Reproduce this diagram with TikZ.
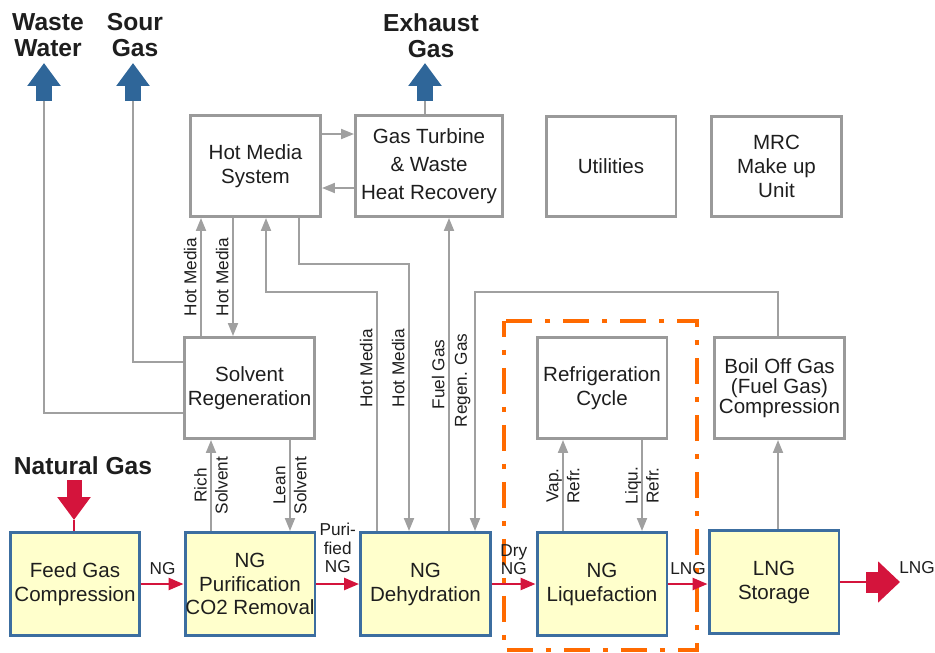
\documentclass[tikz,border=0pt]{standalone}
\usepackage{fontspec}
\setmainfont{Liberation Sans}
\usetikzlibrary{arrows.meta}
\definecolor{boxgray}{HTML}{9A9A9A}
\definecolor{linegray}{HTML}{A0A0A0}
\definecolor{unitblue}{HTML}{3C6EA0}
\definecolor{unityellow}{HTML}{FFFFCC}
\definecolor{ngred}{HTML}{D4143C}
\definecolor{outblue}{HTML}{2F6699}
\definecolor{liqorange}{HTML}{FF6A00}
\definecolor{textdark}{HTML}{1E1E1E}
\newcommand{\boxfont}{\fontsize{11.7}{13.6}\selectfont}
\newcommand{\lblfont}{\fontsize{9.8}{10.6}\selectfont}
\newcommand{\headfont}{\bfseries\fontsize{14}{14.7}\selectfont}

\tikzset{
    box/.style={draw=boxgray, line width=1.7pt, minimum width=2.6cm, minimum height=2.02cm,
        inner sep=0pt, align=center, font=\boxfont, text=textdark},
    unit/.style={box, draw=unitblue, fill=unityellow, minimum height=2.06cm},
    head/.style={font=\headfont, align=center, inner sep=0pt, text=textdark},
    lbl/.style={font=\lblfont, align=center, inner sep=1.5pt, text=textdark},
    side/.style={lbl, rotate=90, anchor=south, inner sep=2pt},
    vlbl/.style={lbl, rotate=90, font=\fontsize{9.8}{12}\selectfont},
    gline/.style={draw=linegray, line width=1.1pt},
    garrow/.style={gline, -{Triangle[length=0.26cm, width=0.2cm]}},
    rline/.style={draw=ngred, line width=1.4pt},
    rarrow/.style={rline, -{Triangle[length=0.3cm, width=0.24cm]}},
    outblock/.style={draw=outblue, line width=0.32cm, -{Triangle[length=0.46cm, width=0.64cm]}},
    inblock/.style={draw=ngred, line width=0.3cm, -{Triangle[length=0.46cm, width=0.64cm]}},
    lngblock/.style={draw=ngred, line width=0.42cm, -{Triangle[length=0.44cm, width=0.8cm]}},
    refframe/.style={draw=liqorange, line width=2.8pt,
        dash pattern=on 0.52cm off 0.26cm on 0.1cm off 0.26cm, dash phase=0.2cm}
}

\begin{document}
\begin{tikzpicture}[x=0.02cm, y=-0.02cm]
    \useasboundingbox (0,0) rectangle (935,652);

    % liquefaction frame behind everything
    \draw[refframe] (504,321) rectangle (697,650);

    % top row
    \node[box] (hms) at (255.5,166) {Hot Media\\System};
    \node[box, minimum width=2.94cm] (gt) at (429,166) {Gas Turbine\\[2.5pt]\& Waste\\[2.5pt]Heat Recovery};
    \node[box] (util) at (611,166.5) {Utilities};
    \node[box] (mrc) at (776.5,166.5) {MRC\\Make up\\Unit};

    % middle row
    \node[box] (solv) at (249.5,388) {Solvent\\Regeneration};
    \node[box] (refr) at (602,388) {Refrigeration\\Cycle};
    \node[box, font=\fontsize{11.7}{11.5}\selectfont] (bog) at (779.5,388) {Boil Off Gas\\(Fuel Gas)\\Compression};

    % main process line
    \node[unit] (feed) at (75,584) {Feed Gas\\Compression};
    \node[unit] (purif) at (250,584) {NG\\Purification\\CO2 Removal};
    \node[unit] (dehy) at (425.5,584) {NG\\Dehydration};
    \node[unit] (liq) at (602,584) {NG\\Liquefaction};
    \node[unit] (stor) at (774,582) {LNG\\Storage};

    % feeds and products
    \node[head] (wwlab) at (48,35) {Waste\\Water};
    \node[head] (sglab) at (135,35) {Sour\\Gas};
    \node[head] (exlab) at (431,36) {Exhaust\\Gas};
    \node[head] (nglab) at (83,466) {Natural Gas};
    \node[lbl] (lngend) at (917,568) {LNG};

    \coordinate (ww) at (44,101);    \coordinate (wwtip) at (44,63);
    \coordinate (sg) at (133,101);   \coordinate (sgtip) at (133,63);
    \coordinate (exh) at (425,101);  \coordinate (exhtip) at (425,63);
    \coordinate (ngin) at (74,480);  \coordinate (ngtip) at (74,520);
    \coordinate (lngout) at (866,582); \coordinate (lngtip) at (900,582);

    % lanes of the utility lines
    \coordinate (hmA) at (201,0);
    \coordinate (hmB) at (233,0);
    \coordinate (hmC) at (266,292);
    \coordinate (hmCd) at (377,292);
    \coordinate (hmD) at (299,264);
    \coordinate (hmDd) at (409,264);
    \coordinate (fuel) at (449,0);
    \coordinate (regen) at (475,292);
    \coordinate (rich) at (211,0);
    \coordinate (lean) at (290,0);
    \coordinate (vap) at (563,0);
    \coordinate (liqu) at (642,0);
    \coordinate (boil) at (778,0);

    % hot media and turbine
    \draw[garrow] ([yshift=-0.4cm]hms.north east) -- ([yshift=-0.4cm]gt.north west);
    \draw[garrow] ([yshift=-1.48cm]gt.north west) -- ([yshift=-1.48cm]hms.north east);
    \draw[garrow] (hmA |- solv.north) -- node[side] {Hot Media} (hmA |- hms.south);
    \draw[garrow] (hmB |- hms.south) -- node[side] {Hot Media} (hmB |- solv.north);
    \draw[garrow] (hmCd |- dehy.north) -- node[side, pos=0.68] {Hot Media} (hmCd) -- (hmC) -- (hmC |- hms.south);
    \draw[garrow] (hmD |- hms.south) -- (hmD) -- (hmDd) -- node[side, pos=0.39] {Hot Media} (hmDd |- dehy.north);
    \draw[garrow] (fuel |- dehy.north) -- node[side] {Fuel Gas} (fuel |- gt.south);
    \draw[garrow] (boil |- bog.north) |- (regen) -- node[side, pos=0.37] {Regen. Gas} (regen |- dehy.north);

    % solvent and refrigerant loops
    \draw[garrow] (rich |- purif.north) -- node[vlbl] {Rich\\Solvent} (rich |- solv.south);
    \draw[garrow] (lean |- solv.south) -- node[vlbl] {Lean\\Solvent} (lean |- purif.north);
    \draw[garrow] (vap |- liq.north) -- node[vlbl] {Vap.\\Refr.} (vap |- refr.south);
    \draw[garrow] (liqu |- refr.south) -- node[vlbl] {Liqu.\\Refr.} (liqu |- liq.north);
    \draw[garrow] (boil |- stor.north) -- (boil |- bog.south);

    % waste streams
    \draw[gline] ([yshift=-0.52cm]solv.north west) -| (sg);
    \draw[gline] ([yshift=0.54cm]solv.south west) -| (ww);
    \draw[gline] (exh |- gt.north) -- (exh);
    \draw[outblock] (ww) -- (wwtip);
    \draw[outblock] (sg) -- (sgtip);
    \draw[outblock] (exh) -- (exhtip);

    % gas path
    \draw[inblock] (ngin) -- (ngtip);
    \draw[rline] (ngtip) -- (ngtip |- feed.north);
    \draw[rarrow] (feed) -- node[lbl, above=3pt] {NG} (purif);
    \draw[rarrow] (purif) -- node[lbl, above=4pt] {Puri-\\fied\\NG} (dehy);
    \draw[rarrow] (dehy) -- node[lbl, above=3pt] {Dry\\NG} (liq);
    \draw[rarrow] (liq.east) -- node[lbl, above=3pt] {LNG} (liq.east -| stor.west);
    \draw[rline] (stor.east) -- (lngout);
    \draw[lngblock] (lngout) -- (lngtip);
\end{tikzpicture}
\end{document}
